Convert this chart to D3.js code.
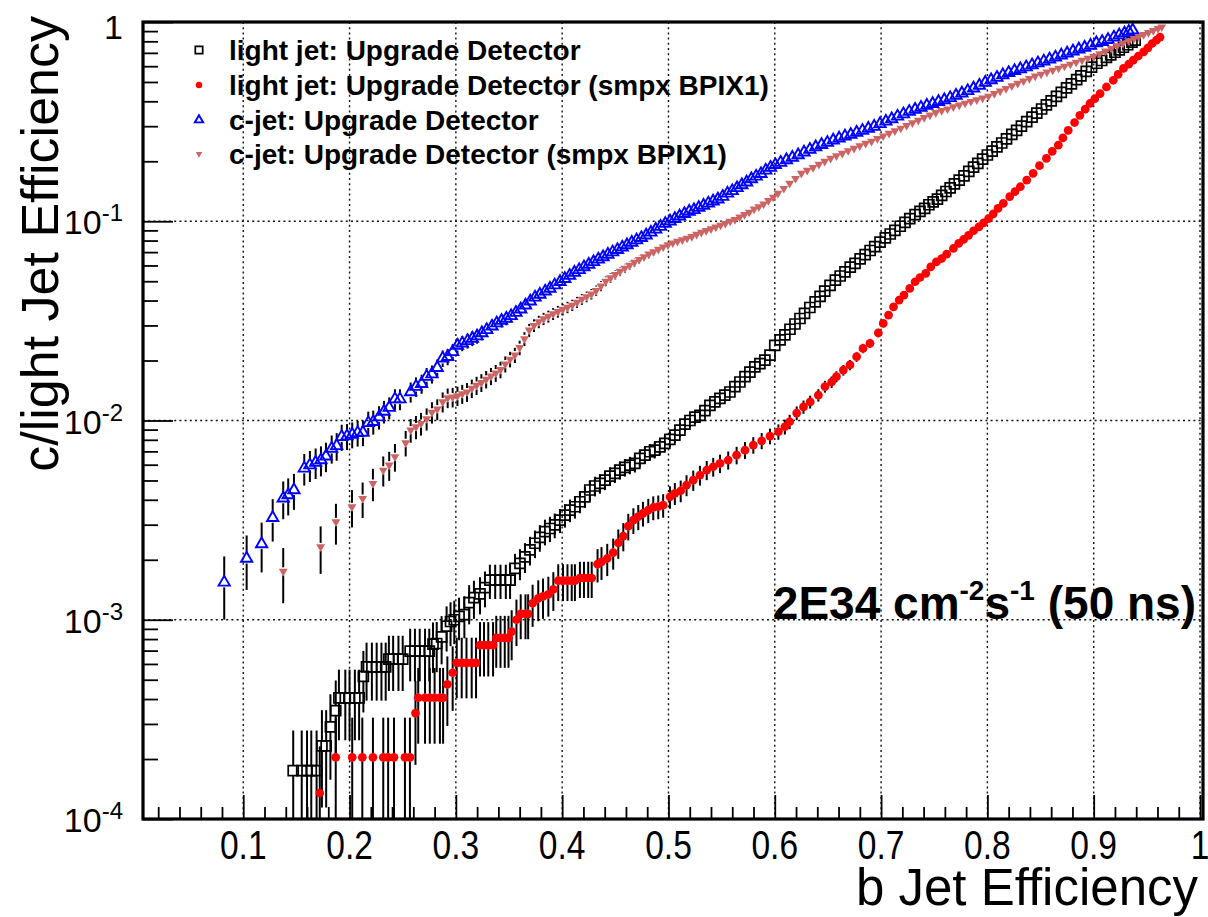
<!DOCTYPE html>
<html>
<head>
<meta charset="utf-8">
<title>b-tag performance: c/light vs b efficiency</title>
<style>
  body { margin: 0; background: #fff; }
  svg { display: block; }
  text { font-family: 'Liberation Sans', Arial, Helvetica, sans-serif; }
</style>
</head>
<body>
<svg width="1208" height="917"></svg>
<script src="https://d3js.org/d3.v7.min.js"></script>
<script>

// ---- data: [b jet efficiency, mistag efficiency] ----
var lightUpgrade = [
  [0.147,1.75e-4],[0.155,1.75e-4],[0.160,1.75e-4],[0.164,1.75e-4],[0.169,1.75e-4],[0.174,2.33e-4],[0.178,2.33e-4],
  [0.182,2.9e-4],[0.187,3.5e-4],[0.190,4.05e-4],[0.196,4.05e-4],[0.200,4.05e-4],[0.205,4.05e-4],[0.209,4.05e-4],
  [0.213,5.2e-4],[0.216,5.8e-4],[0.221,5.8e-4],[0.2255,5.8e-4],[0.230,5.8e-4],[0.234,5.8e-4],[0.237,6.35e-4],
  [0.241,6.35e-4],[0.246,6.35e-4],[0.250,6.35e-4],[0.257,6.96e-4],[0.2615,6.96e-4],[0.266,6.96e-4],[0.271,6.96e-4],
  [0.275,6.96e-4],[0.2785,7.55e-4],[0.282,7.6e-4],[0.2866,8.2e-4],[0.2913,9.3e-4],[0.295,9.8e-4],[0.2985,1.0e-3],
  [0.303,1.04e-3],[0.308,1.06e-3],[0.3125,1.22e-3],[0.317,1.29e-3],[0.3227,1.35e-3],[0.3274,1.45e-3],[0.332,1.58e-3],
  [0.337,1.58e-3],[0.342,1.58e-3],[0.347,1.58e-3],[0.351,1.58e-3],[0.3556,1.81e-3],[0.3603,1.92e-3],[0.365,2.07e-3],
  [0.3697,2.24e-3],[0.3744,2.42e-3],[0.379,2.59e-3],[0.3838,2.77e-3],[0.3885,2.87e-3],[0.393,2.99e-3],[0.398,3.16e-3],
  [0.4026,3.35e-3],[0.4073,3.55e-3],[0.412,3.69e-3],[0.4167,3.91e-3],[0.4214,4.14e-3],[0.426,4.48e-3],[0.4308,4.69e-3],
  [0.4355,4.83e-3],[0.4402,5.02e-3],[0.445,5.26e-3],[0.4496,5.43e-3],[0.4543,5.64e-3],[0.459,5.82e-3],[0.4637,5.97e-3],
  [0.4684,6.09e-3],[0.473,6.45e-3],[0.4778,6.7e-3],[0.4825,6.97e-3],[0.487,7.1e-3],[0.4919,7.38e-3],[0.4966,7.67e-3],
  [0.5013,8.04e-3],[0.506,8.45e-3],[0.5108,8.95e-3],[0.5155,9.6e-3],[0.5202,1.0e-2],[0.5249,1.04e-2],[0.5296,1.06e-2],
  [0.5343,1.12e-2],[0.539,1.19e-2],[0.5437,1.24e-2],[0.5484,1.29e-2],[0.553,1.34e-2],[0.5578,1.39e-2],[0.5625,1.48e-2],
  [0.5672,1.56e-2],[0.572,1.66e-2],[0.5766,1.75e-2],[0.5813,1.86e-2],[0.586,1.93e-2],[0.5907,2.01e-2],[0.5955,2.13e-2],
  [0.600,2.38e-2],[0.605,2.54e-2],[0.6095,2.69e-2],[0.6143,2.87e-2],[0.619,3.05e-2],[0.6237,3.25e-2],[0.628,3.45e-2],
  [0.633,3.69e-2],[0.638,3.94e-2],[0.6426,4.2e-2],[0.647,4.46e-2],[0.652,4.77e-2],[0.657,5.07e-2],[0.6615,5.31e-2],
  [0.666,5.57e-2],[0.671,5.88e-2],[0.6755,6.15e-2],[0.6803,6.47e-2],[0.685,6.8e-2],[0.6897,7.13e-2],[0.694,7.46e-2],
  [0.699,7.86e-2],[0.704,8.26e-2],[0.7086,8.63e-2],[0.713,9.0e-2],[0.718,9.44e-2],[0.7225,9.86e-2],[0.727,0.103],
  [0.732,0.108],[0.7366,0.112],[0.741,0.116],[0.745,0.121],[0.749,0.125],[0.753,0.129],[0.757,0.135],[0.761,0.141],
  [0.765,0.147],[0.769,0.154],[0.7735,0.161],[0.778,0.169],[0.7825,0.178],[0.787,0.187],[0.791,0.195],[0.7955,0.205],
  [0.800,0.215],[0.8045,0.225],[0.809,0.236],[0.8135,0.247],[0.818,0.259],[0.823,0.273],[0.8275,0.286],[0.832,0.300],
  [0.837,0.316],[0.842,0.333],[0.8465,0.349],[0.851,0.366],[0.8555,0.384],[0.860,0.402],[0.865,0.423],[0.8695,0.443],
  [0.8745,0.467],[0.879,0.489],[0.884,0.514],[0.888,0.536],[0.893,0.565],[0.898,0.594],[0.903,0.621],[0.9075,0.641],
  [0.912,0.664],[0.916,0.684],[0.920,0.705],[0.924,0.725],[0.928,0.747],[0.932,0.769],[0.936,0.792],[0.939,0.811]
];

var lightSmpx = [
  [0.172,1.35e-4],[0.187,2.04e-4],[0.2025,2.04e-4],[0.212,2.04e-4],[0.222,2.04e-4],[0.2317,2.04e-4],[0.2363,2.04e-4],
  [0.2418,2.04e-4],[0.2521,2.04e-4],[0.2568,2.04e-4],[0.262,3.4e-4],[0.2646,4.06e-4],[0.271,4.06e-4],[0.2755,4.06e-4],
  [0.280,4.06e-4],[0.285,4.06e-4],[0.288,4.06e-4],[0.292,4.74e-4],[0.297,5.42e-4],[0.3008,6.08e-4],[0.3055,6.08e-4],
  [0.310,6.08e-4],[0.3149,6.08e-4],[0.319,6.08e-4],[0.3227,7.46e-4],[0.3265,7.46e-4],[0.3305,7.46e-4],[0.335,7.46e-4],
  [0.338,8.1e-4],[0.342,8.1e-4],[0.346,8.1e-4],[0.3495,8.1e-4],[0.3525,8.71e-4],[0.357,1.0e-3],[0.361,1.07e-3],
  [0.3655,1.07e-3],[0.368,1.07e-3],[0.3722,1.21e-3],[0.3775,1.28e-3],[0.382,1.31e-3],[0.387,1.34e-3],[0.3917,1.42e-3],
  [0.3963,1.57e-3],[0.4008,1.57e-3],[0.405,1.57e-3],[0.409,1.57e-3],[0.412,1.57e-3],[0.4167,1.62e-3],[0.4205,1.62e-3],
  [0.4245,1.62e-3],[0.4278,1.62e-3],[0.4333,1.90e-3],[0.437,1.95e-3],[0.4424,2.03e-3],[0.448,2.17e-3],[0.4528,2.43e-3],
  [0.4575,2.63e-3],[0.4622,2.95e-3],[0.467,3.16e-3],[0.4716,3.29e-3],[0.476,3.42e-3],[0.481,3.55e-3],[0.4857,3.66e-3],
  [0.4904,3.70e-3],[0.495,3.76e-3],[0.5014,4.14e-3],[0.506,4.31e-3],[0.5115,4.44e-3],[0.517,4.74e-3],[0.5233,5.02e-3],
  [0.5296,5.32e-3],[0.536,5.64e-3],[0.5421,5.86e-3],[0.5485,6.09e-3],[0.5562,6.33e-3],[0.5641,6.70e-3],[0.572,7.1e-3],
  [0.5798,7.53e-3],[0.5877,7.91e-3],[0.5955,8.35e-3],[0.6034,8.78e-3],[0.6095,9.3e-3],[0.614,9.86e-3],[0.6206,1.09e-2],
  [0.627,1.17e-2],[0.6333,1.24e-2],[0.641,1.34e-2],[0.6472,1.48e-2],[0.6535,1.56e-2],[0.658,1.66e-2],[0.6645,1.79e-2],
  [0.6707,1.90e-2],[0.677,2.09e-2],[0.683,2.30e-2],[0.6896,2.44e-2],[0.6974,2.75e-2],[0.702,3.07e-2],[0.707,3.38e-2],
  [0.7117,3.72e-2],[0.717,4.02e-2],[0.7215,4.26e-2],[0.727,4.6e-2],[0.732,4.97e-2],[0.7366,5.22e-2],[0.742,5.47e-2],
  [0.7467,5.9e-2],[0.752,6.25e-2],[0.757,6.5e-2],[0.7617,6.84e-2],[0.768,7.3e-2],[0.773,7.74e-2],[0.7776,8.1e-2],
  [0.7823,8.5e-2],[0.787,8.96e-2],[0.792,9.37e-2],[0.7964,9.82e-2],[0.8011,0.103],[0.8055,0.109],[0.810,0.116],
  [0.815,0.123],[0.821,0.133],[0.826,0.141],[0.831,0.149],[0.837,0.161],[0.843,0.174],[0.849,0.190],[0.8555,0.207],
  [0.861,0.224],[0.8667,0.241],[0.871,0.262],[0.876,0.286],[0.882,0.313],[0.887,0.340],[0.892,0.365],[0.8965,0.390],
  [0.901,0.412],[0.906,0.437],[0.912,0.472],[0.9184,0.510],[0.923,0.546],[0.928,0.585],[0.933,0.614],[0.9373,0.643],
  [0.942,0.675],[0.947,0.708],[0.951,0.742],[0.955,0.780],[0.959,0.810],[0.9624,0.840]
];

var cUpgrade = [
  [0.0821,1.54e-3],[0.1032,2.03e-3],[0.1173,2.40e-3],[0.1277,3.25e-3],[0.1376,4.07e-3],[0.1423,4.23e-3],[0.1477,4.48e-3],
  [0.1574,5.75e-3],[0.1627,5.97e-3],[0.1681,6.16e-3],[0.1731,6.33e-3],[0.1778,6.62e-3],[0.1832,7.24e-3],[0.1879,7.46e-3],
  [0.1926,8.28e-3],[0.1976,8.35e-3],[0.2025,8.51e-3],[0.2076,8.67e-3],[0.2126,8.71e-3],[0.2176,9.73e-3],[0.2223,9.85e-3],
  [0.2277,1.04e-2],[0.2324,1.11e-2],[0.2373,1.16e-2],[0.2427,1.28e-2],[0.2474,1.28e-2],[0.2575,1.39e-2],[0.2625,1.48e-2],
  [0.2678,1.53e-2],[0.2725,1.66e-2],[0.2775,1.71e-2],[0.2825,1.84e-2],[0.2876,2.05e-2],[0.2923,2.09e-2],[0.297,2.21e-2],
  [0.3015,2.38e-2],[0.306,2.44e-2],[0.311,2.51e-2],[0.3155,2.58e-2],[0.320,2.65e-2],[0.3245,2.75e-2],[0.329,2.85e-2],
  [0.334,2.97e-2],[0.3385,3.08e-2],[0.343,3.17e-2],[0.3475,3.25e-2],[0.352,3.35e-2],[0.3565,3.48e-2],[0.361,3.62e-2],
  [0.3655,3.79e-2],[0.370,3.97e-2],[0.3745,4.15e-2],[0.379,4.29e-2],[0.384,4.45e-2],[0.3885,4.60e-2],[0.393,4.78e-2],
  [0.398,4.97e-2],[0.4025,5.15e-2],[0.407,5.34e-2],[0.4115,5.53e-2],[0.416,5.70e-2],[0.4205,5.89e-2],[0.425,6.07e-2],
  [0.4295,6.25e-2],[0.434,6.44e-2],[0.4385,6.62e-2],[0.443,6.81e-2],[0.4475,7.00e-2],[0.452,7.19e-2],[0.4565,7.40e-2],
  [0.461,7.60e-2],[0.4655,7.82e-2],[0.470,8.04e-2],[0.4745,8.26e-2],[0.479,8.51e-2],[0.4835,8.79e-2],[0.488,9.10e-2],
  [0.4925,9.40e-2],[0.497,9.73e-2],[0.5015,0.100],[0.506,0.103],[0.5105,0.106],[0.515,0.109],[0.5195,0.112],
  [0.524,0.114],[0.5285,0.117],[0.533,0.120],[0.5375,0.123],[0.542,0.126],[0.5465,0.129],[0.551,0.133],[0.5555,0.138],
  [0.560,0.142],[0.5645,0.147],[0.569,0.152],[0.5735,0.157],[0.578,0.163],[0.5825,0.168],[0.587,0.173],[0.5915,0.180],
  [0.596,0.186],[0.6005,0.192],[0.6055,0.197],[0.611,0.203],[0.6165,0.209],[0.622,0.215],[0.6275,0.222],[0.633,0.229],
  [0.6385,0.236],[0.644,0.242],[0.6495,0.248],[0.655,0.255],[0.6605,0.261],[0.666,0.267],[0.6715,0.272],[0.677,0.279],
  [0.6825,0.285],[0.688,0.292],[0.6935,0.299],[0.699,0.308],[0.7045,0.317],[0.710,0.326],[0.7155,0.336],[0.721,0.345],
  [0.7265,0.355],[0.732,0.364],[0.7375,0.372],[0.743,0.381],[0.7485,0.389],[0.754,0.398],[0.7595,0.406],[0.765,0.416],
  [0.7705,0.428],[0.776,0.439],[0.7815,0.451],[0.787,0.465],[0.7925,0.480],[0.798,0.497],[0.8035,0.512],[0.809,0.526],
  [0.8145,0.542],[0.820,0.556],[0.8255,0.569],[0.831,0.581],[0.8365,0.594],[0.842,0.608],[0.8475,0.622],[0.853,0.635],
  [0.8585,0.650],[0.864,0.665],[0.8695,0.681],[0.875,0.697],[0.8805,0.713],[0.886,0.730],[0.8915,0.745],[0.897,0.762],
  [0.9025,0.785],[0.908,0.796],[0.9135,0.815],[0.919,0.838],[0.924,0.859],[0.929,0.879],[0.933,0.895],[0.9367,0.910]
];

var cSmpx = [
  [0.1376,1.75e-3],[0.1728,2.32e-3],[0.1872,3.10e-3],[0.2023,3.69e-3],[0.2123,4.06e-3],[0.222,4.83e-3],[0.2317,5.63e-3],
  [0.2373,5.97e-3],[0.2427,6.58e-3],[0.2528,7.73e-3],[0.2575,8.95e-3],[0.2625,9.29e-3],[0.2672,9.66e-3],[0.2725,1.02e-2],
  [0.2775,1.10e-2],[0.2825,1.14e-2],[0.2876,1.24e-2],[0.2923,1.30e-2],[0.297,1.31e-2],[0.3015,1.33e-2],[0.306,1.36e-2],
  [0.3105,1.39e-2],[0.315,1.45e-2],[0.3195,1.50e-2],[0.324,1.55e-2],[0.3285,1.61e-2],[0.333,1.67e-2],[0.3375,1.73e-2],
  [0.342,1.80e-2],[0.3465,1.92e-2],[0.351,2.03e-2],[0.3555,2.13e-2],[0.360,2.32e-2],[0.3645,2.57e-2],[0.369,2.84e-2],
  [0.3735,3.00e-2],[0.378,3.13e-2],[0.3825,3.24e-2],[0.387,3.33e-2],[0.3915,3.43e-2],[0.396,3.52e-2],[0.4005,3.61e-2],
  [0.405,3.70e-2],[0.4095,3.79e-2],[0.414,3.92e-2],[0.4185,4.06e-2],[0.423,4.18e-2],[0.4275,4.31e-2],[0.432,4.49e-2],
  [0.4365,4.73e-2],[0.441,5.00e-2],[0.4455,5.20e-2],[0.450,5.40e-2],[0.4545,5.60e-2],[0.459,5.81e-2],[0.4635,6.01e-2],
  [0.468,6.22e-2],[0.4725,6.43e-2],[0.477,6.64e-2],[0.4815,6.84e-2],[0.486,7.03e-2],[0.4905,7.23e-2],[0.495,7.43e-2],
  [0.4995,7.62e-2],[0.504,7.78e-2],[0.5085,7.93e-2],[0.513,8.07e-2],[0.5175,8.22e-2],[0.522,8.38e-2],[0.5265,8.59e-2],
  [0.531,8.79e-2],[0.5355,8.97e-2],[0.540,9.16e-2],[0.5445,9.35e-2],[0.549,9.55e-2],[0.5535,9.75e-2],[0.558,0.100],
  [0.5625,0.102],[0.567,0.105],[0.5715,0.108],[0.576,0.111],[0.5805,0.115],[0.585,0.118],[0.5895,0.122],[0.594,0.127],
  [0.5985,0.132],[0.603,0.138],[0.6085,0.146],[0.614,0.155],[0.6195,0.164],[0.625,0.174],[0.6305,0.180],[0.636,0.186],
  [0.6415,0.193],[0.647,0.200],[0.6525,0.207],[0.658,0.213],[0.6635,0.219],[0.669,0.226],[0.6745,0.232],[0.680,0.239],
  [0.6855,0.246],[0.691,0.252],[0.6965,0.260],[0.702,0.268],[0.7075,0.276],[0.713,0.284],[0.7185,0.293],[0.724,0.302],
  [0.7295,0.312],[0.735,0.321],[0.7405,0.331],[0.746,0.341],[0.7515,0.351],[0.757,0.359],[0.7625,0.366],[0.768,0.375],
  [0.7735,0.383],[0.779,0.391],[0.7845,0.399],[0.790,0.407],[0.7955,0.415],[0.801,0.424],[0.8065,0.437],[0.812,0.450],
  [0.8175,0.463],[0.823,0.478],[0.8285,0.492],[0.834,0.506],[0.8395,0.520],[0.845,0.535],[0.8505,0.547],[0.856,0.560],
  [0.8615,0.573],[0.867,0.586],[0.8725,0.600],[0.878,0.614],[0.8835,0.628],[0.889,0.643],[0.8945,0.658],[0.900,0.673],
  [0.9055,0.693],[0.911,0.715],[0.9165,0.736],[0.922,0.759],[0.9275,0.782],[0.933,0.805],[0.938,0.826],[0.9425,0.845],
  [0.947,0.865],[0.9515,0.885],[0.956,0.906],[0.9605,0.927],[0.964,0.944]
];

// sample sizes used for the binomial error bars
var lightEvents = 16500, lightSmpxEvents = 14500, cEvents = 5300, cSmpxEvents = 6000;

var xTicks = [0.1, 0.2, 0.3, 0.4, 0.5, 0.6, 0.7, 0.8, 0.9, 1];
var xTickLabels = ["0.1", "0.2", "0.3", "0.4", "0.5", "0.6", "0.7", "0.8", "0.9", "1"];
var yTicks = [1, 1e-1, 1e-2, 1e-3, 1e-4];
var yTickExponents = ["", "-1", "-2", "-3", "-4"];

var legendLabels = [
  "light jet: Upgrade Detector",
  "light jet: Upgrade Detector (smpx BPIX1)",
  "c-jet: Upgrade Detector",
  "c-jet: Upgrade Detector (smpx BPIX1)"
];

// ---- layout ----
var svg = d3.select("svg");
var frameL = 143, frameR = 1200, frameT = 22, frameB = 819;

var x = d3.scaleLinear().domain([0.0057, 1]).range([frameL, frameR]);
var y = d3.scaleLog().domain([1e-4, 1]).range([frameB, frameT]);

svg.append("rect").attr("width", 1208).attr("height", 917).attr("fill", "#fff");

svg.append("defs").append("clipPath").attr("id", "plotclip")
  .append("rect").attr("x", frameL).attr("y", frameT).attr("width", frameR - frameL + 3).attr("height", frameB - frameT);

// grid (dotted)
var grid = svg.append("g").attr("stroke", "#111").attr("stroke-width", 1.4).attr("stroke-dasharray", "2,3.2");
grid.selectAll(".gx").data(xTicks).join("line")
  .attr("x1", d => x(d)).attr("x2", d => x(d)).attr("y1", frameT).attr("y2", frameB);
grid.selectAll(".gy").data([1e-1, 1e-2, 1e-3]).join("line")
  .attr("x1", frameL).attr("x2", frameR + 3).attr("y1", d => y(d)).attr("y2", d => y(d));

// axes: ticks point into the frame
var minorY = [];
[1e-4, 1e-3, 1e-2, 1e-1].forEach(function(dec) {
  for (var k = 2; k <= 9; k++) minorY.push(dec * k);
});
var minorX = d3.range(1, 50).map(d => d * 0.02).filter(d => Math.abs(d * 10 - Math.round(d * 10)) > 1e-6);

function styleAxis(g) {
  g.select(".domain").remove();
  g.selectAll(".tick line").attr("stroke", "#000").attr("stroke-width", 1.8);
}

svg.append("g").attr("transform", "translate(" + frameL + ",0)")
  .call(d3.axisLeft(y).tickValues(yTicks).tickSize(-30).tickFormat(""))
  .call(styleAxis);
svg.append("g").attr("transform", "translate(" + frameL + ",0)")
  .call(d3.axisLeft(y).tickValues(minorY).tickSize(-15).tickFormat(""))
  .call(styleAxis);
svg.append("g").attr("transform", "translate(0," + frameB + ")")
  .call(d3.axisBottom(x).tickValues(xTicks).tickSize(-24).tickFormat(""))
  .call(styleAxis);
svg.append("g").attr("transform", "translate(0," + frameB + ")")
  .call(d3.axisBottom(x).tickValues(minorX).tickSize(-12).tickFormat(""))
  .call(styleAxis);

// x tick labels (narrow-looking in the original)
svg.append("g").selectAll("text").data(xTicks).join("text")
  .attr("transform", d => "translate(" + x(d) + ",859) scale(0.84,1)")
  .attr("text-anchor", "middle")
  .attr("font-size", 40)
  .text((d, i) => xTickLabels[i]);

// y tick labels 10^-n
var ylab = svg.append("g").selectAll("text").data(yTicks).join("text")
  .attr("x", 123)
  .attr("y", (d, i) => y(d) + (i === 0 ? 17 : 13))
  .attr("text-anchor", "end")
  .attr("font-size", 34);
ylab.each(function(d, i) {
  var t = d3.select(this);
  if (!yTickExponents[i]) { t.text("1"); return; }
  t.append("tspan").text("10");
  t.append("tspan").attr("font-size", 24).attr("dy", -13).text(yTickExponents[i]);
});

// axis titles
svg.append("text")
  .attr("x", 1198).attr("y", 905)
  .attr("text-anchor", "end").attr("font-size", 51)
  .text("b Jet Efficiency");
svg.append("text")
  .attr("transform", "translate(58,16) rotate(-90)")
  .attr("text-anchor", "end").attr("font-size", 52)
  .text("c/light Jet Efficiency");

// ---- series ----
var series = [
  { data: lightUpgrade, events: lightEvents, symbol: d3.symbolSquare, size: 100, fill: "none", stroke: "#000", sw: 1.7, gap: 5, rot: 0 },
  { data: lightSmpx, events: lightSmpxEvents, symbol: d3.symbolCircle, size: 60, fill: "#ff0000", stroke: "none", sw: 0, gap: 4, rot: 0 },
  { data: cUpgrade, events: cEvents, symbol: d3.symbolTriangle, size: 55, fill: "none", stroke: "#0000ff", sw: 1.9, gap: 5, rot: 0 },
  { data: cSmpx, events: cSmpxEvents, symbol: d3.symbolTriangle, size: 34, fill: "#cd6464", stroke: "none", sw: 0, gap: 4, rot: 180 }
];

var plot = svg.append("g").attr("clip-path", "url(#plotclip)");

series.forEach(function(s) {
  var g = plot.append("g");
  var bars = s.data.map(function(p) {
    var v = p[1];
    var err = Math.sqrt(v * (1 - v) / s.events);
    var py = y(v);
    var hi = y(Math.min(v + err, 1.5));
    var lo = v - err > 1e-6 ? y(v - err) : frameB + 20;
    return { px: x(p[0]), py: py, hi: hi, lo: lo };
  });
  g.selectAll(".eu").data(bars.filter(b => b.hi < b.py - s.gap)).join("line")
    .attr("x1", b => b.px).attr("x2", b => b.px)
    .attr("y1", b => b.hi).attr("y2", b => b.py - s.gap)
    .attr("stroke", "#000").attr("stroke-width", 2);
  g.selectAll(".ed").data(bars.filter(b => b.lo > b.py + s.gap)).join("line")
    .attr("x1", b => b.px).attr("x2", b => b.px)
    .attr("y1", b => b.py + s.gap).attr("y2", b => b.lo)
    .attr("stroke", "#000").attr("stroke-width", 2);
  g.selectAll("path").data(s.data).join("path")
    .attr("d", d3.symbol().type(s.symbol).size(s.size))
    .attr("transform", d => "translate(" + x(d[0]) + "," + y(d[1]) + ") rotate(" + s.rot + ")")
    .attr("fill", s.fill).attr("stroke", s.stroke).attr("stroke-width", s.sw);
});

// frame
svg.append("rect")
  .attr("x", frameL).attr("y", frameT).attr("width", frameR - frameL + 3).attr("height", frameB - frameT)
  .attr("fill", "none").attr("stroke", "#000").attr("stroke-width", 3.2);

// legend
var legendRows = [50, 85, 120, 154];
var leg = svg.append("g");
series.forEach(function(s, i) {
  leg.append("path")
    .attr("d", d3.symbol().type(s.symbol).size(s.size * 0.55))
    .attr("transform", "translate(199," + legendRows[i] + ") rotate(" + s.rot + ")")
    .attr("fill", s.fill).attr("stroke", s.stroke).attr("stroke-width", s.sw);
  leg.append("text")
    .attr("x", 229).attr("y", legendRows[i] + 10)
    .attr("font-size", 28).attr("font-weight", "bold")
    .text(legendLabels[i]);
});

// luminosity label
var lum = svg.append("text")
  .attr("x", 1196).attr("y", 619)
  .attr("text-anchor", "end").attr("font-size", 46).attr("font-weight", "bold");
lum.append("tspan").text("2E34 cm");
lum.append("tspan").attr("font-size", 28).attr("dy", -19).text("-2");
lum.append("tspan").attr("dy", 19).text("s");
lum.append("tspan").attr("font-size", 28).attr("dy", -19).text("-1");
lum.append("tspan").attr("dy", 19).text(" (50 ns)");

</script>
</body>
</html>
